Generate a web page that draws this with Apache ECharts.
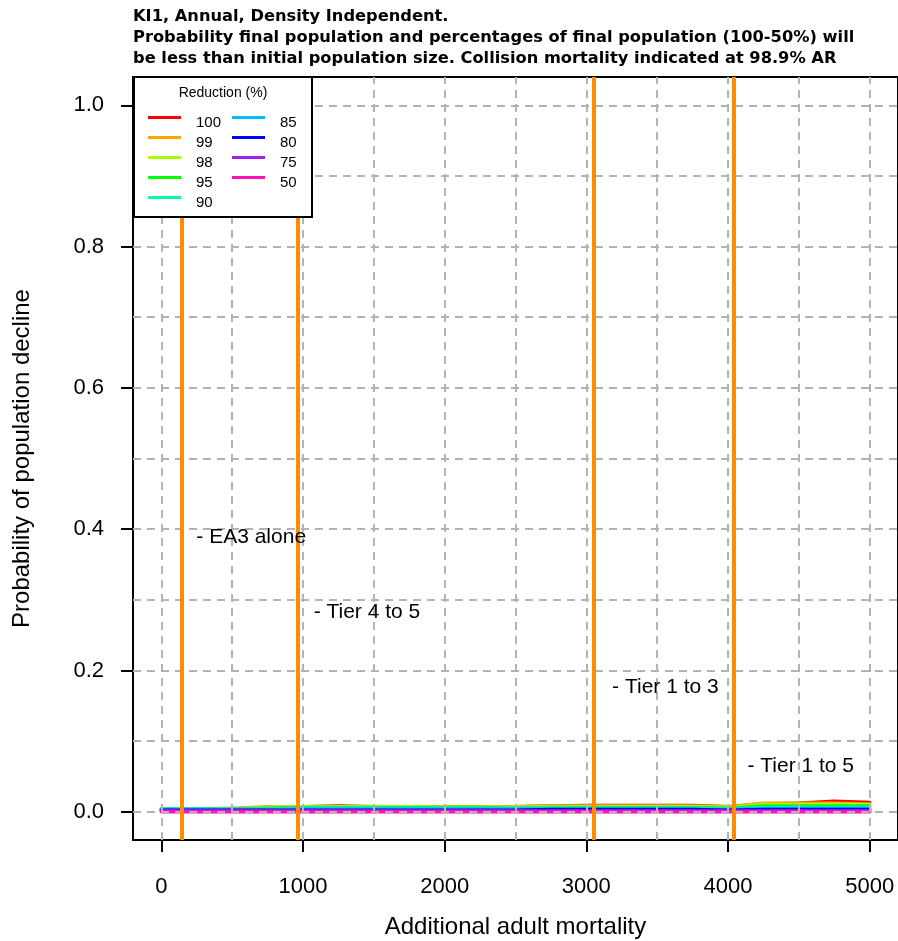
<!DOCTYPE html>
<html>
<head>
<meta charset="utf-8">
<script src="https://cdn.jsdelivr.net/npm/echarts@6/dist/echarts.min.js"></script>
<style>
  html, body { margin: 0; padding: 0; background: #ffffff; }
  #chart { width: 898px; height: 941px; }
</style>
</head>
<body>
<div id="chart"></div>
<script>
// Additional adult mortality (x) and probability of decline for each reduction level
const mortality = [0, 250, 500, 750, 1000, 1250, 1500, 1750, 2000, 2250, 2500, 2750, 3000, 3250, 3500, 3750, 4000, 4250, 4500, 4750, 5000];
const reductions = ['100', '99', '98', '95', '90', '85', '80', '75', '50'];
const reductionColours = ['#FF0000', '#FFA500', '#A8FF00', '#00FF00', '#00FFA0', '#00BFFF', '#0000FF', '#A020F0', '#FF10B8'];

const red100 = [0.004, 0.004, 0.004, 0.006, 0.007, 0.008, 0.007, 0.007, 0.007, 0.007, 0.007, 0.008, 0.009, 0.009, 0.009, 0.009, 0.007, 0.011, 0.012, 0.015, 0.013];
const red99  = [0.004, 0.004, 0.005, 0.007, 0.007, 0.007, 0.007, 0.007, 0.007, 0.007, 0.007, 0.008, 0.008, 0.008, 0.008, 0.008, 0.007, 0.012, 0.012, 0.012, 0.011];
const red98  = [0.004, 0.004, 0.004, 0.006, 0.007, 0.007, 0.007, 0.007, 0.006, 0.006, 0.006, 0.007, 0.007, 0.007, 0.007, 0.007, 0.006, 0.010, 0.010, 0.010, 0.010];
const red95  = [0.004, 0.004, 0.004, 0.005, 0.006, 0.006, 0.006, 0.006, 0.006, 0.006, 0.005, 0.006, 0.006, 0.006, 0.006, 0.006, 0.005, 0.008, 0.008, 0.008, 0.008];
const red90  = [0.004, 0.004, 0.004, 0.004, 0.005, 0.005, 0.005, 0.005, 0.005, 0.005, 0.005, 0.005, 0.005, 0.005, 0.005, 0.005, 0.004, 0.006, 0.006, 0.006, 0.006];
const red85  = [0.003, 0.003, 0.003, 0.003, 0.004, 0.004, 0.004, 0.004, 0.004, 0.004, 0.004, 0.004, 0.004, 0.004, 0.004, 0.004, 0.003, 0.005, 0.005, 0.005, 0.005];
const red80  = [0.002, 0.002, 0.002, 0.002, 0.002, 0.002, 0.002, 0.002, 0.002, 0.002, 0.002, 0.003, 0.003, 0.003, 0.003, 0.003, 0.002, 0.003, 0.003, 0.003, 0.003];
const red75  = [0.001, 0.001, 0.001, 0.001, 0.001, 0.001, 0.001, 0.001, 0.001, 0.001, 0.001, 0.001, 0.001, 0.001, 0.001, 0.001, 0.001, 0.001, 0.001, 0.001, 0.001];
const red50  = [0, 0, 0, 0, 0, 0, 0, 0, 0, 0, 0, 0, 0, 0, 0, 0, 0, 0, 0, 0, 0];
const reductionValues = [red100, red99, red98, red95, red90, red85, red80, red75, red50];

// Collision mortality for each development scenario and its annotation
const scenarioMortality = [144, 964, 3055, 4038];
const scenarioNames = ['- EA3 alone', '- Tier 4 to 5', '- Tier 1 to 3', '- Tier 1 to 5'];
const scenarioLabelX = [247, 1075, 3182, 4137];
const scenarioLabelY = [0.389, 0.282, 0.176, 0.065];

// Axis ticks and grid positions
const xTicks = [0, 1000, 2000, 3000, 4000, 5000];
const yTicks = [0, 0.2, 0.4, 0.6, 0.8, 1.0];
const xGrid = [0, 500, 1000, 1500, 2000, 2500, 3000, 3500, 4000, 4500, 5000];
const yGrid = [0, 0.1, 0.2, 0.3, 0.4, 0.5, 0.6, 0.7, 0.8, 0.9, 1.0];

const titleLines = [
  'KI1, Annual, Density Independent.',
  'Probability final population and percentages of final population (100-50%) will',
  'be less than initial population size. Collision mortality indicated at 98.9% AR'
];

const FONT = '"Liberation Sans", Arial, Helvetica, sans-serif';

const chart = echarts.init(document.getElementById('chart'), null, { renderer: 'canvas' });

const lineSeries = reductions.map((r, i) => ({
  name: r,
  type: 'line',
  data: mortality.map((m, k) => [m, reductionValues[i][k]]),
  showSymbol: false,
  symbol: 'none',
  lineStyle: { color: reductionColours[i], width: 3.5, cap: 'round', join: 'round' },
  itemStyle: { color: reductionColours[i] },
  z: 2,
  silent: true,
  animation: false
}));

const gridLineStyle = { color: '#B3B3B3', width: 2, type: [8, 6] };

// Legend key: a 33px stroke at the top of a 43x14 box, so the label sits right of and just below it
const legendKey = 'path://M0,0L33,0L33,3L0,3Z M43,14L43,14';

const legendCommon = {
  orient: 'vertical',
  top: 114,
  padding: 0,
  itemGap: 2,
  itemWidth: 43,
  itemHeight: 14,
  icon: legendKey,
  selectedMode: false,
  z: 12,
  itemStyle: { borderWidth: 0 },
  textStyle: { fontFamily: FONT, fontSize: 15, color: '#000', lineHeight: 18 }
};

const option = {
  animation: false,
  backgroundColor: '#ffffff',
  title: {
    text: titleLines.join('\n'),
    left: 133,
    top: 6,
    padding: 0,
    textStyle: {
      fontFamily: '"DejaVu Sans", ' + FONT,
      fontWeight: 'bold',
      fontSize: 16.25,
      lineHeight: 21,
      color: '#000'
    }
  },
  grid: {
    left: 133,
    top: 77,
    right: 0,
    bottom: 101,
    show: true,
    borderColor: '#000',
    borderWidth: 2,
    backgroundColor: 'transparent',
    containLabel: false,
    outerBoundsMode: 'none'
  },
  xAxis: {
    type: 'value',
    min: -200,
    max: 5200,
    name: 'Additional adult mortality',
    nameLocation: 'middle',
    nameGap: 75,
    nameTextStyle: { fontFamily: FONT, fontSize: 24, color: '#000' },
    axisLine: { show: false, onZero: false },
    axisTick: {
      show: true, inside: false, length: 12, customValues: xTicks,
      lineStyle: { color: '#000', width: 2 }
    },
    axisLabel: {
      customValues: xTicks, margin: 36,
      fontFamily: FONT, fontSize: 22, color: '#000',
      formatter: v => String(v)
    },
    splitLine: { show: false }
  },
  yAxis: {
    type: 'value',
    min: -0.04,
    max: 1.04,
    name: 'Probability of population decline',
    nameLocation: 'middle',
    nameGap: 99,
    nameTextStyle: { fontFamily: FONT, fontSize: 24, color: '#000' },
    axisLine: { show: false, onZero: false },
    axisTick: {
      show: true, inside: false, length: 12, customValues: yTicks,
      lineStyle: { color: '#000', width: 2 }
    },
    axisLabel: {
      customValues: yTicks, margin: 29,
      fontFamily: FONT, fontSize: 22, color: '#000',
      formatter: v => v.toFixed(1)
    },
    splitLine: { show: false }
  },
  legend: [
    Object.assign({ data: reductions.slice(0, 5), left: 148 }, legendCommon),
    Object.assign({ data: reductions.slice(5), left: 232 }, legendCommon)
  ],
  graphic: [
    {
      type: 'rect',
      z: 10,
      shape: { x: 134, y: 77, width: 178, height: 140 },
      style: { fill: '#ffffff', stroke: '#000', lineWidth: 2 }
    },
    {
      type: 'text',
      z: 11,
      x: 223, y: 93,
      style: {
        text: 'Reduction (%)',
        fontFamily: FONT, fontSize: 14, fill: '#000',
        align: 'center', verticalAlign: 'middle'
      }
    }
  ],
  series: [
    ...lineSeries,
    {
      name: 'grid lines',
      type: 'line',
      data: [],
      silent: true,
      z: 3,
      markLine: {
        z: 5,
        silent: true,
        symbol: ['none', 'none'],
        label: { show: false },
        emphasis: { disabled: true },
        lineStyle: gridLineStyle,
        data: [
          ...xGrid.map(v => ({ xAxis: v })),
          ...yGrid.map(v => ({ yAxis: v }))
        ],
        animation: false
      }
    },
    {
      name: 'scenarios',
      type: 'scatter',
      data: scenarioLabelX.map((x, i) => ({ value: [x, scenarioLabelY[i]], name: scenarioNames[i] })),
      symbolSize: 0,
      silent: true,
      z: 7,
      label: {
        show: true,
        position: 'right',
        distance: 0,
        formatter: p => p.name,
        fontFamily: FONT, fontSize: 21, color: '#000', opacity: 1
      },
      markLine: {
        z: 6,
        silent: true,
        symbol: ['none', 'none'],
        label: { show: false },
        emphasis: { disabled: true },
        lineStyle: { color: '#FF8C00', width: 4, type: 'solid' },
        data: scenarioMortality.map(v => ({ xAxis: v })),
        animation: false
      }
    }
  ]
};

chart.setOption(option);
</script>
</body>
</html>
